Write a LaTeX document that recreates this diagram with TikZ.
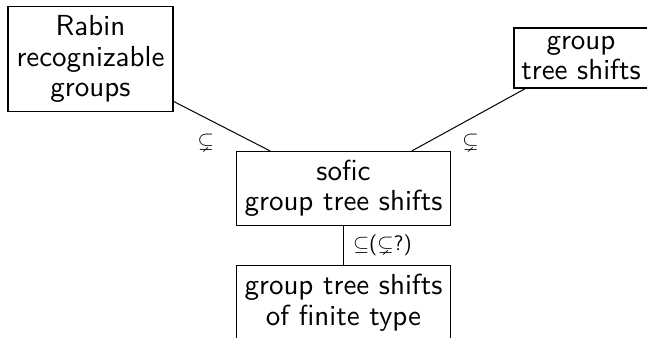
\documentclass[tikz,border=0pt]{standalone}
\usepackage{amssymb}
\usepackage{fontspec}
\setsansfont{lmsans10-regular.otf}
\begin{document}
\begin{tikzpicture}[x=1pt,y=-1pt,
  box/.style={draw, line width=1.1pt, inner sep=0pt, align=center,
    font=\sffamily\fontsize{29}{30.5}\selectfont},
  lbl/.style={font=\sffamily\fontsize{21}{23}\selectfont, inner sep=0pt},
  conn/.style={line width=1pt}]
\useasboundingbox (0,0) rectangle (647,337);
\node[box, minimum width=165pt, minimum height=105pt] (rabin) at (90.5,59) {Rabin\\recognizable\\groups};
\node[box, minimum width=134pt, minimum height=60pt] (group) at (581,58) {group\\tree shifts};
\node[box, minimum width=214pt, minimum height=74pt] (sofic) at (343.5,188.5) {sofic\\group tree shifts};
\node[box, minimum width=214pt, minimum height=74pt] (finite) at (343.5,302.5) {group tree shifts\\of finite type};
\draw[conn] (rabin) -- (sofic) node[lbl, midway, xshift=-16pt, yshift=-16pt] (l1) {$\subsetneq$};
\draw[conn] (group) -- (sofic) node[lbl, midway, xshift=2pt, yshift=-22pt] (l2) {$\subsetneq$};
\draw[conn] (sofic) -- (finite) node[lbl, midway, right=9pt] (l3) {$\subseteq$($\subsetneq$?)};
\end{tikzpicture}
\end{document}
